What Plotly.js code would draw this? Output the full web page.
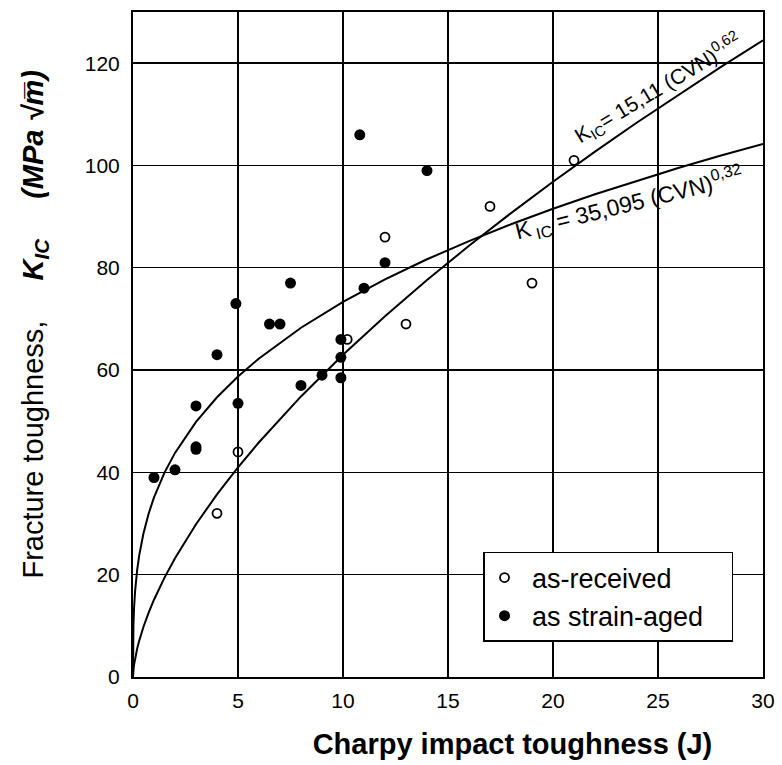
<!DOCTYPE html>
<html><head><meta charset="utf-8">
<script src="https://cdn.plot.ly/plotly-3.0.1.min.js"></script>
<style>html,body{margin:0;padding:0;background:#fff}#chart{width:782px;height:765px}</style>
</head><body><div id="chart"></div>
<script>
// as-received (open circles)
const asReceivedX = [4, 5, 10.2, 12, 13, 17, 19, 21];
const asReceivedY = [32, 44, 66, 86, 69, 92, 77, 101];
// as strain-aged (filled circles)
const strainAgedX = [1, 2, 3, 3, 3, 4, 4.9, 5, 6.5, 7, 7.5, 8, 9, 9.9, 9.9, 9.9, 10.8, 11, 12, 14];
const strainAgedY = [39, 40.5, 45, 44.5, 53, 63, 73, 53.5, 69, 69, 77, 57, 59, 66, 62.5, 58.5, 106, 76, 81, 99];
// fit curves, sampled values
const fitX  = [0, 0.001, 0.005, 0.02, 0.05, 0.1, 0.2, 0.3, 0.5, 0.75, 1, 1.5, 2, 3, 4, 5, 6, 8, 10, 12, 14, 16, 18, 20, 22, 24, 26, 28, 30];
const fitAY = [0, 0.21, 0.57, 1.34, 2.36, 3.62, 5.57, 7.16, 9.83, 12.64, 15.11, 19.43, 23.22, 29.86, 35.69, 40.98, 45.89, 54.85, 62.99, 70.53, 77.60, 84.30, 90.69, 96.81, 102.70, 108.40, 113.90, 119.26, 124.47];
const fitBY = [0, 3.85, 6.44, 10.04, 13.46, 16.80, 20.97, 23.87, 28.11, 32.01, 35.10, 39.96, 43.81, 49.88, 54.69, 58.74, 62.27, 68.27, 73.32, 77.74, 81.66, 85.22, 88.50, 91.53, 94.36, 97.03, 99.55, 101.94, 104.22];
const xTicks = [0, 5, 10, 15, 20, 25, 30];
const yTicks = [0, 20, 40, 60, 80, 100, 120];
const seriesNames = ['as-received', 'as strain-aged'];
const eqA = 'K<sub>IC</sub>= 15,11 (CVN)<sup>0,62</sup>';
const eqB = 'K<sub> IC</sub> = 35,095 (CVN)<sup>0,32</sup>';

const FONT = 'Liberation Sans, Arial, Helvetica, sans-serif';
const sp = n => '&nbsp;'.repeat(n);

const traces = [
  {x: fitX, y: fitAY, mode: 'lines', line: {color: '#000', width: 2}, showlegend: false, hoverinfo: 'skip'},
  {x: fitX, y: fitBY, mode: 'lines', line: {color: '#000', width: 2}, showlegend: false, hoverinfo: 'skip'},
  {x: asReceivedX, y: asReceivedY, mode: 'markers', name: sp(1) + seriesNames[0],
   marker: {symbol: 'circle-open', size: 9, color: '#000', line: {width: 1.8, color: '#000'}}},
  {x: strainAgedX, y: strainAgedY, mode: 'markers', name: sp(1) + seriesNames[1] + sp(3),
   marker: {symbol: 'circle', size: 11, color: '#000'}}
];

const layout = {
  width: 782, height: 765,
  margin: {l: 133, r: 19, t: 12, b: 88},
  paper_bgcolor: '#fff', plot_bgcolor: '#fff',
  font: {family: FONT, color: '#000'},
  xaxis: {
    range: [0, 30], tickvals: xTicks, ticktext: xTicks.map(String),
    showgrid: true, gridcolor: '#000', gridwidth: 1.4,
    showline: true, linecolor: '#000', linewidth: 2, mirror: true,
    zeroline: false, ticks: '', ticklabelstandoff: 4,
    tickfont: {family: FONT, size: 21, color: '#000'},
    title: {text: sp(16) + 'Charpy impact toughness (J)', standoff: 22,
            font: {family: FONT, size: 29, weight: 700, color: '#000'}}
  },
  yaxis: {
    range: [0, 130], tickvals: yTicks, ticktext: yTicks.map(String),
    showgrid: true, gridcolor: '#000', gridwidth: 1.4,
    showline: true, linecolor: '#000', linewidth: 2, mirror: true,
    zeroline: false, ticks: '', ticklabelstandoff: 7,
    tickfont: {family: FONT, size: 21, color: '#000'},
    title: {text: sp(5) + 'Fracture toughness,' + sp(5) + '<b><i>K<sub>IC</sub></i></b>' + sp(5) + '<b><i>(MPa √m\u0305)</i></b>',
            standoff: 33,
            font: {family: FONT, size: 29, color: '#000'}}
  },
  legend: {
    x: 0.5556, y: 0.188, xanchor: 'left', yanchor: 'top',
    bgcolor: '#fff', bordercolor: '#000', borderwidth: 1.5,
    font: {family: FONT, size: 27, color: '#000'},
    tracegroupgap: 0
  },
  annotations: [
    {x: 25.0, y: 115.0, xref: 'x', yref: 'y', text: eqA, showarrow: false,
     textangle: -31, font: {family: FONT, size: 21, color: '#000'}},
    {x: 23.6, y: 92.6, xref: 'x', yref: 'y', text: eqB, showarrow: false,
     textangle: -14, font: {family: FONT, size: 23, color: '#000'}}
  ],
  showlegend: true
};

Plotly.newPlot('chart', traces, layout, {displayModeBar: false, staticPlot: true});
</script>
</body></html>
